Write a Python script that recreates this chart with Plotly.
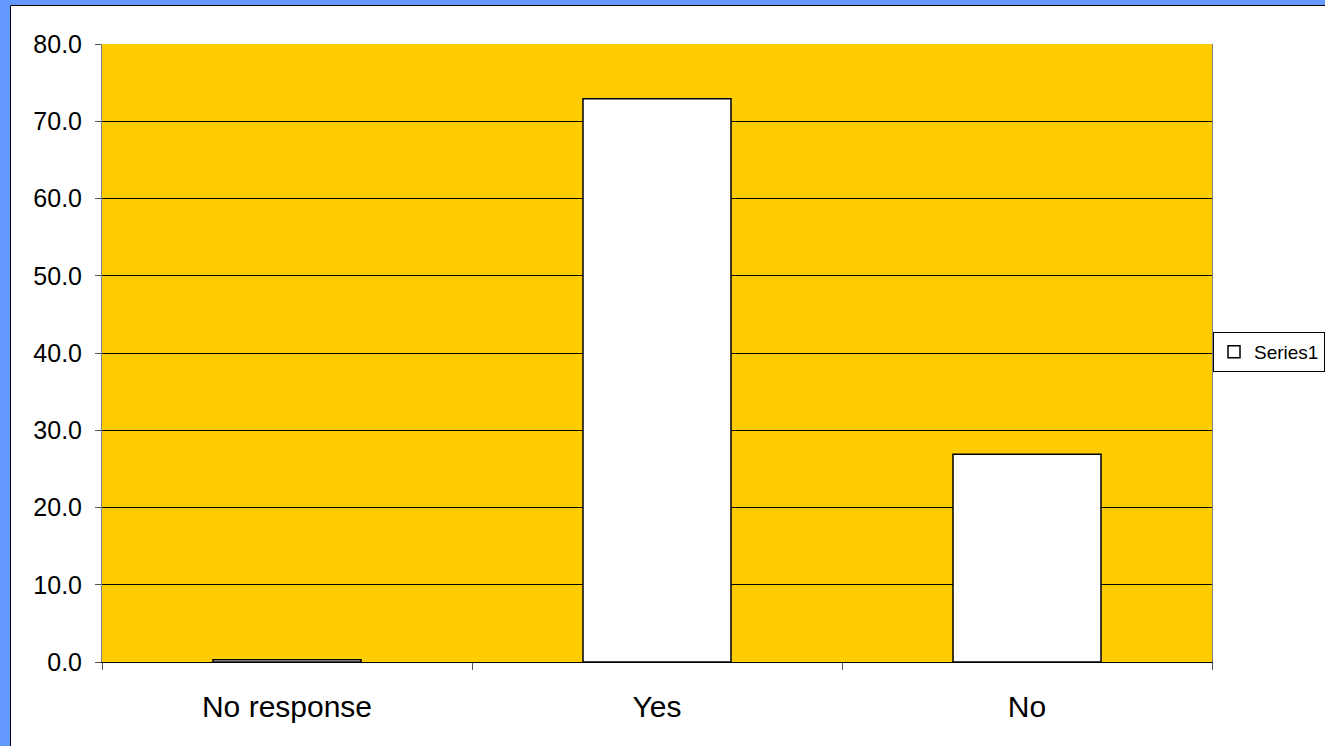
import plotly.graph_objects as go

categories = ["No response", "Yes", "No"]
values = [0.3, 72.9, 26.9]
y_ticks = [0, 10, 20, 30, 40, 50, 60, 70, 80]
y_tick_labels = ["0.0", "10.0", "20.0", "30.0", "40.0", "50.0", "60.0", "70.0", "80.0"]
series_name = "Series1"

W, H = 1325, 746
ML, MR, MT, MB = 102, 113, 44, 84
PW, PH = W - ML - MR, H - MT - MB

def px_x(p):
    return (p - ML) / PW

def px_y(p):
    return (H - MB - p) / PH

FONT = "Arial, Liberation Sans, sans-serif"
BLUE = "#6699FF"
GOLD = "#FFCC00"

fig = go.Figure()
fig.add_trace(go.Bar(
    x=categories, y=values, name=series_name, width=0.4,
    marker=dict(color="white", line=dict(color="black", width=1.5)),
    showlegend=True,
))

shapes = [
    # blue frame strips
    dict(type="rect", xref="paper", yref="paper", x0=px_x(-5), x1=px_x(10), y0=px_y(H + 5), y1=px_y(-5),
         fillcolor=BLUE, line=dict(width=0), layer="above"),
    dict(type="rect", xref="paper", yref="paper", x0=px_x(-5), x1=px_x(W + 5), y0=px_y(5), y1=px_y(-5),
         fillcolor=BLUE, line=dict(width=0), layer="above"),
    # thin black border of inner chart area
    dict(type="line", xref="paper", yref="paper", x0=px_x(10.5), x1=px_x(10.5), y0=px_y(5.5), y1=px_y(H + 5),
         line=dict(color="black", width=1), layer="above"),
    dict(type="line", xref="paper", yref="paper", x0=px_x(10.5), x1=px_x(W + 5), y0=px_y(5.5), y1=px_y(5.5),
         line=dict(color="black", width=1), layer="above"),
]

fig.update_layout(
    width=W, height=H,
    margin=dict(l=ML, r=MR, t=MT, b=MB, autoexpand=False),
    paper_bgcolor="white",
    plot_bgcolor=GOLD,
    font=dict(family=FONT, color="black"),
    bargap=0.6,
    shapes=shapes,
    showlegend=True,
    legend=dict(
        x=px_x(1213), xanchor="left", y=px_y(352), yanchor="middle",
        bgcolor="white", bordercolor="black", borderwidth=1,
        font=dict(size=19, family=FONT, color="black"),
        itemwidth=30,
    ),
    xaxis=dict(
        type="category",
        tickson="boundaries", ticks="outside", ticklen=7, tickcolor="#555555", tickwidth=1,
        showline=True, linecolor="black", linewidth=1, mirror=False,
        showgrid=False, zeroline=False,
        tickfont=dict(size=30, family=FONT, color="black"),
        ticklabelstandoff=18,
        fixedrange=True,
    ),
    yaxis=dict(
        range=[0, 80], tickmode="array", tickvals=y_ticks, ticktext=y_tick_labels,
        ticks="outside", ticklen=6, tickcolor="#555555", tickwidth=1,
        showline=True, linecolor="#808080", linewidth=1, mirror=True,
        showgrid=True, gridcolor="black", gridwidth=1, zeroline=False,
        tickfont=dict(size=25, family=FONT, color="black"),
        ticklabelstandoff=8,
        fixedrange=True,
    ),
)

fig.write_html("out.html")
